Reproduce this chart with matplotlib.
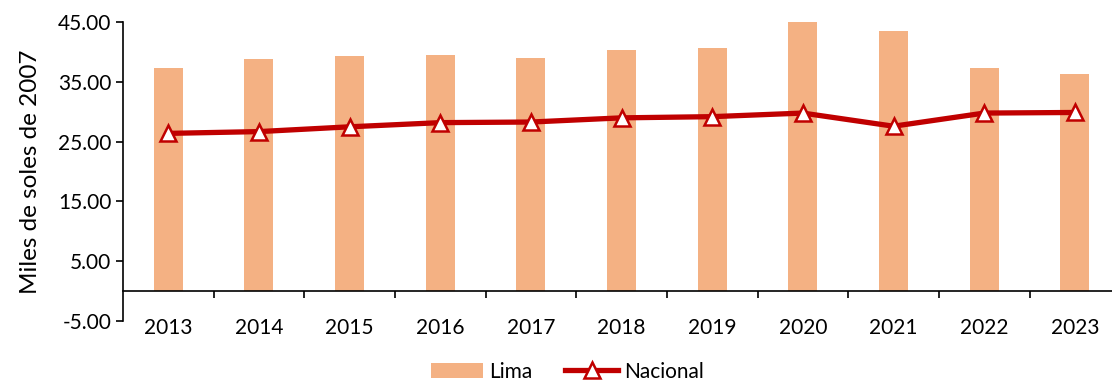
import numpy as np
import matplotlib.pyplot as plt
from matplotlib.ticker import FixedLocator, NullFormatter

plt.rcParams['font.family'] = ['Lato', 'DejaVu Sans']

# Ingreso real promedio, miles de soles de 2007
years = ['2013', '2014', '2015', '2016', '2017', '2018',
         '2019', '2020', '2021', '2022', '2023']
lima = [37.3, 38.9, 39.4, 39.5, 39.1, 40.4, 40.7, 45.0, 43.5, 37.3, 36.3]
nacional = [26.4, 26.7, 27.5, 28.2, 28.3, 29.0, 29.2, 29.8, 27.6, 29.8, 29.9]

x = np.arange(len(years))

fig = plt.figure(figsize=(11.12, 3.83), dpi=100)
ax = fig.add_axes([0.1106, 0.1619, 0.8894, 0.78])

bars = ax.bar(x, lima, width=0.32, color='#F4B183', label='Lima', zorder=2)
line, = ax.plot(x, nacional, color='#C00000', linewidth=3.8, marker='^',
                markersize=12, markerfacecolor='white', markeredgecolor='#C00000',
                markeredgewidth=1.8, label='Nacional', zorder=3)

ax.set_ylim(-5, 45)
ax.set_yticks([-5, 5, 15, 25, 35, 45])
ax.set_yticklabels([f'{v:.2f}' for v in [-5, 5, 15, 25, 35, 45]])
ax.set_xlim(-0.5, 10.41)

# category axis sits at zero, tick marks between categories
ax.spines['bottom'].set_position(('data', 0))
ax.spines['top'].set_visible(False)
ax.spines['right'].set_visible(False)
ax.spines['left'].set_linewidth(1.2)
ax.spines['bottom'].set_linewidth(1.2)
ax.xaxis.set_major_locator(FixedLocator(x[:-1] + 0.5))
ax.xaxis.set_major_formatter(NullFormatter())
ax.xaxis.set_minor_locator(FixedLocator(x))
ax.set_xticklabels(years, minor=True)
ax.tick_params(axis='x', which='major', direction='out', length=5, width=1.2)
ax.tick_params(axis='x', which='minor', length=0, pad=19, labelsize=15)
ax.tick_params(axis='y', direction='out', length=5, width=1.2, labelsize=15)

ax.set_ylabel('Miles de soles de 2007', fontsize=17.5, labelpad=12)

fig.legend([bars, line], ['Lima', 'Nacional'], loc='center',
           bbox_to_anchor=(0.51, 0.03), ncol=2, frameon=False,
           fontsize=15, handlelength=2.5, columnspacing=1.6, handletextpad=0.3)

fig.savefig('out.png', dpi=100)
